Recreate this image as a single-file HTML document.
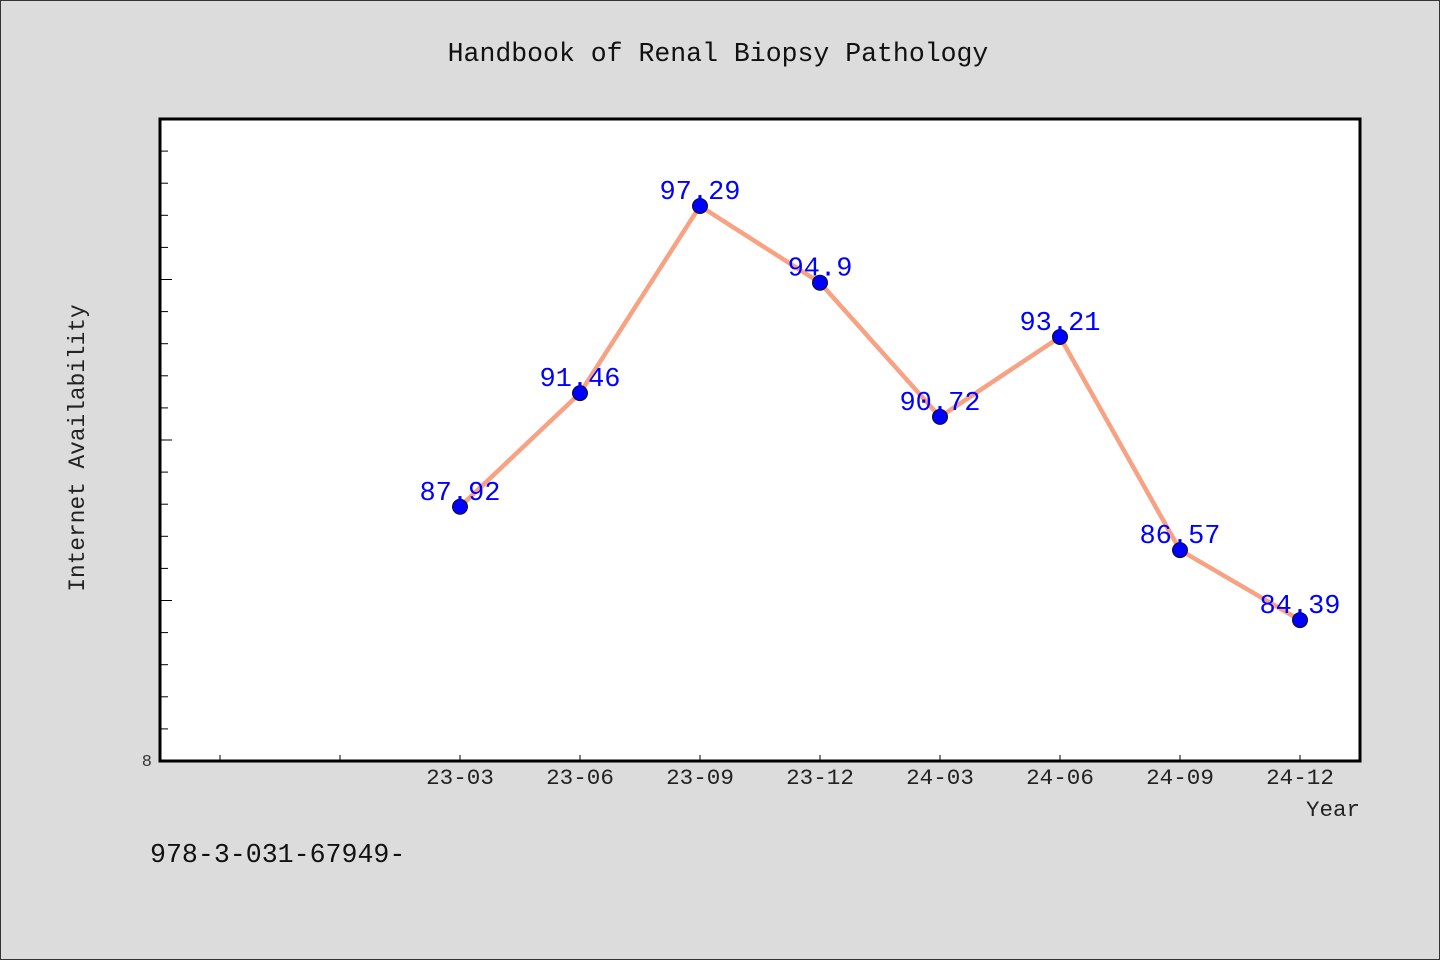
<!DOCTYPE html>
<html><head><meta charset="utf-8"><style>
html,body{margin:0;padding:0;background:#dcdcdc;}
svg{display:block;font-family:"Liberation Mono","DejaVu Sans Mono",monospace;}
</style></head><body>
<svg id="chart" width="1440" height="960" viewBox="0 0 1440 960">
<rect x="0.5" y="0.5" width="1439" height="959" fill="#dcdcdc" stroke="#333"/>
<text x="718" y="61" font-size="26.5" text-anchor="middle" fill="#111">Handbook of Renal Biopsy Pathology</text>
<rect x="160" y="119" width="1200" height="642" fill="#fff"/>
<g id="yticks"></g>
<g id="xticks"></g>
<path d="M160 119 H1360 V761 H160 Z" fill="none" stroke="#000" stroke-width="3"/>
<text x="152" y="766" font-size="17" text-anchor="end" fill="#333">8</text>
<text transform="translate(84,448) rotate(-90)" font-size="22.8" text-anchor="middle" fill="#222">Internet Availability</text>
<text x="1360" y="816" font-size="22.5" text-anchor="end" fill="#222">Year</text>
<g id="series"></g>
<text x="150" y="862" font-size="26.6" fill="#111">978-3-031-67949-</text>
</svg>
<script>
const categories = ["23-03","23-06","23-09","23-12","24-03","24-06","24-09","24-12"];
const values = [87.92, 91.46, 97.29, 94.9, 90.72, 93.21, 86.57, 84.39];
const valueLabels = ["87.92","91.46","97.29","94.9","90.72","93.21","86.57","84.39"];
const yMin = 80, yMax = 100;
const NS = "http://www.w3.org/2000/svg";
const L = 160, R = 1360, T = 119, B = 761;
const slots = 10, offset = 2;
function xs(i){ return L + (R-L)/slots*(i+offset+0.5); }
function ys(v){ return B - (v-yMin)/(yMax-yMin)*(B-T); }
function mk(tag, attrs, parent){ const e=document.createElementNS(NS,tag); for(const k in attrs) e.setAttribute(k,attrs[k]); parent.appendChild(e); return e; }
const yt = document.getElementById('yticks');
for(let v=yMin+1; v<yMax; v++){
  const len = (v%5===0)?12:8;
  const t = mk('line',{x1:L,x2:L+len,y1:ys(v),y2:ys(v),stroke:'#000','stroke-width':1},yt);
  
  
}
const xt = document.getElementById('xticks');
for(let s=0; s<slots; s++){
  const x = L + (R-L)/slots*(s+0.5);
  const t = mk('line',{x1:x,x2:x,y1:B,y2:B-6,stroke:'#000','stroke-width':1},xt);
  
  
}
categories.forEach((c,i)=>{
  const t = mk('text',{x:xs(i),y:B+23,'font-size':22.6,'text-anchor':'middle',fill:'#222'},xt);
  t.textContent = c;
  
  
});
const g = document.getElementById('series');
const line = mk('polyline',{points:values.map((v,i)=>xs(i)+','+ys(v)).join(' '),fill:'none',stroke:'#f7a283','stroke-width':4.5,'stroke-linejoin':'round'},g);


values.forEach((v,i)=>{
  const c = mk('circle',{cx:xs(i),cy:ys(v),r:7.5,fill:'#0000ff',stroke:'#111','stroke-width':1},g);
  
  
});
values.forEach((v,i)=>{
  const t = mk('text',{x:xs(i),y:ys(v)-7,'font-size':27,'text-anchor':'middle',fill:'#0000ff'},g);
  t.textContent = valueLabels[i];
  
  
});
</script>
</body></html>
